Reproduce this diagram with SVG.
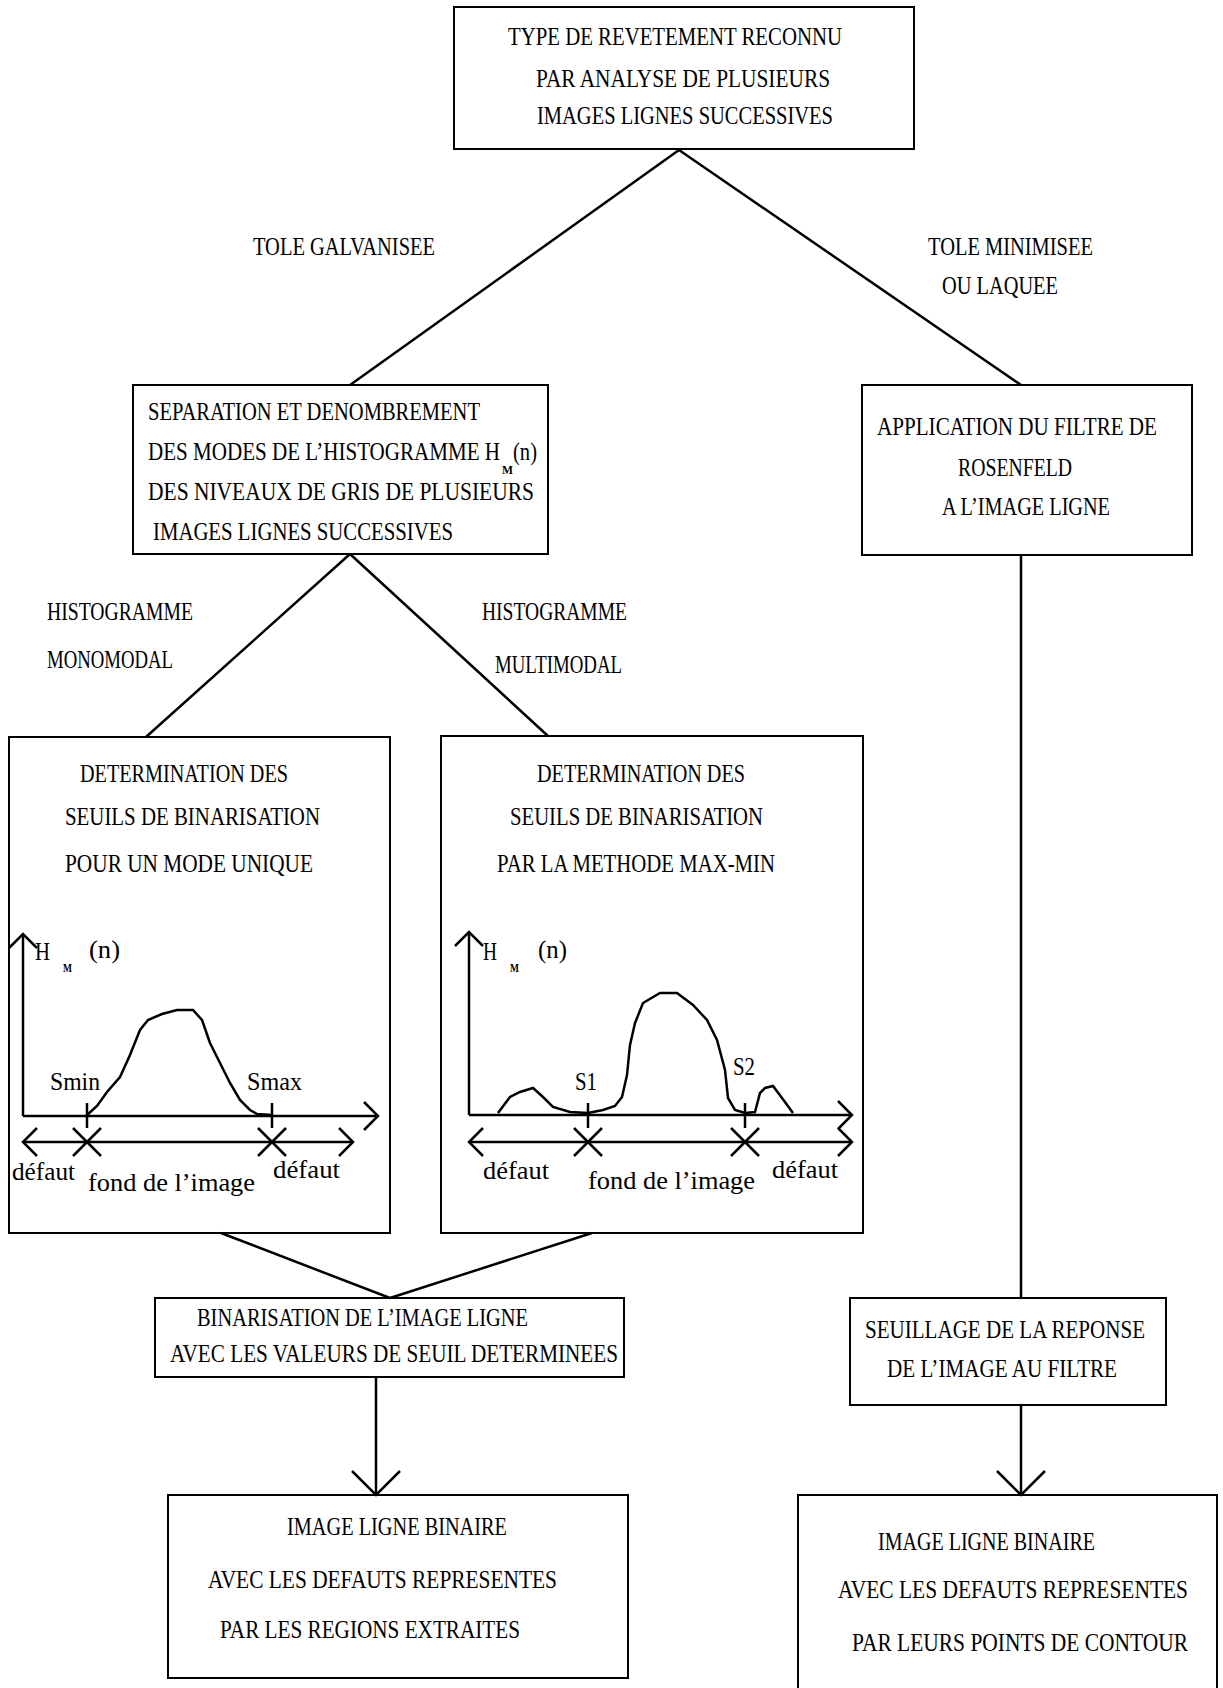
<svg xmlns="http://www.w3.org/2000/svg" width="1223" height="1688" viewBox="0 0 1223 1688">
<style>
.box{fill:none;stroke:#000;stroke-width:2}
.ln{fill:none;stroke:#000;stroke-width:2.5}
.t{font-family:"Liberation Serif",serif;font-size:26px;fill:#000}
.lc{font-family:"Liberation Serif",serif;font-size:26px;fill:#000}
.sub{font-family:"Liberation Serif",serif;font-size:13px;fill:#000;font-weight:bold}
</style>
<defs>
<marker id="v" markerUnits="userSpaceOnUse" viewBox="-30 -30 60 60" markerWidth="60" markerHeight="60" refX="0" refY="0" orient="auto-start-reverse">
<path d="M-24,-24 L0,0 L-24,24" fill="none" stroke="#000" stroke-width="2.5"/>
</marker>
<marker id="a" markerUnits="userSpaceOnUse" viewBox="-20 -20 40 40" markerWidth="40" markerHeight="40" refX="0" refY="0" orient="auto-start-reverse">
<path d="M-14,-14 L0,0 L-14,14" fill="none" stroke="#000" stroke-width="2.5"/>
</marker>
</defs>
<rect width="1223" height="1688" fill="#fff"/>

<g id="connectors">
<line class="ln" x1="679" y1="150" x2="350" y2="385"/>
<line class="ln" x1="679" y1="150" x2="1021" y2="385"/>
<line class="ln" x1="350" y1="554" x2="146" y2="737"/>
<line class="ln" x1="350" y1="554" x2="548" y2="736"/>
<line class="ln" x1="221" y1="1233" x2="390" y2="1298"/>
<line class="ln" x1="592" y1="1233" x2="390" y2="1298"/>
<line class="ln" x1="376" y1="1377" x2="376" y2="1495" marker-end="url(#v)"/>
<line class="ln" x1="1021" y1="555" x2="1021" y2="1298"/>
<line class="ln" x1="1021" y1="1405" x2="1021" y2="1495" marker-end="url(#v)"/>
</g>

<g id="labels">
<text class="t" x="253" y="255" textLength="182" lengthAdjust="spacingAndGlyphs">TOLE GALVANISEE</text>
<text class="t" x="928" y="255" textLength="165" lengthAdjust="spacingAndGlyphs">TOLE MINIMISEE</text>
<text class="t" x="942" y="294" textLength="116" lengthAdjust="spacingAndGlyphs">OU LAQUEE</text>
<text class="t" x="47" y="620" textLength="146" lengthAdjust="spacingAndGlyphs">HISTOGRAMME</text>
<text class="t" x="47" y="668" textLength="126" lengthAdjust="spacingAndGlyphs">MONOMODAL</text>
<text class="t" x="482" y="620" textLength="145" lengthAdjust="spacingAndGlyphs">HISTOGRAMME</text>
<text class="t" x="495" y="673" textLength="127" lengthAdjust="spacingAndGlyphs">MULTIMODAL</text>
</g>

<g id="n1">
<rect class="box" x="454" y="7" width="460" height="142"/>
<text class="t" x="508" y="45" textLength="334" lengthAdjust="spacingAndGlyphs">TYPE DE REVETEMENT RECONNU</text>
<text class="t" x="536" y="87" textLength="294" lengthAdjust="spacingAndGlyphs">PAR ANALYSE DE PLUSIEURS</text>
<text class="t" x="537" y="124" textLength="296" lengthAdjust="spacingAndGlyphs">IMAGES LIGNES SUCCESSIVES</text>
</g>

<g id="n2">
<rect class="box" x="133" y="385" width="415" height="169"/>
<text class="t" x="148" y="420" textLength="332" lengthAdjust="spacingAndGlyphs">SEPARATION ET DENOMBREMENT</text>
<text class="t" x="148" y="460" textLength="352" lengthAdjust="spacingAndGlyphs">DES MODES DE L’HISTOGRAMME H</text>
<text class="sub" x="502" y="474" textLength="11" lengthAdjust="spacingAndGlyphs">M</text>
<text class="t" x="513" y="460" textLength="24" lengthAdjust="spacingAndGlyphs">(n)</text>
<text class="t" x="148" y="500" textLength="386" lengthAdjust="spacingAndGlyphs">DES NIVEAUX DE GRIS DE PLUSIEURS</text>
<text class="t" x="153" y="540" textLength="300" lengthAdjust="spacingAndGlyphs">IMAGES LIGNES SUCCESSIVES</text>
</g>

<g id="n3">
<rect class="box" x="862" y="385" width="330" height="170"/>
<text class="t" x="877" y="435" textLength="280" lengthAdjust="spacingAndGlyphs">APPLICATION DU FILTRE DE</text>
<text class="t" x="958" y="476" textLength="114" lengthAdjust="spacingAndGlyphs">ROSENFELD</text>
<text class="t" x="942" y="515" textLength="168" lengthAdjust="spacingAndGlyphs">A L’IMAGE LIGNE</text>
</g>

<g id="n4">
<rect class="box" x="9" y="737" width="381" height="496"/>
<text class="t" x="80" y="782" textLength="208" lengthAdjust="spacingAndGlyphs">DETERMINATION DES</text>
<text class="t" x="65" y="825" textLength="255" lengthAdjust="spacingAndGlyphs">SEUILS DE BINARISATION</text>
<text class="t" x="65" y="872" textLength="248" lengthAdjust="spacingAndGlyphs">POUR UN MODE UNIQUE</text>
<line class="ln" x1="23" y1="1116" x2="23" y2="934" marker-end="url(#a)"/>
<line class="ln" x1="23" y1="1116" x2="378" y2="1116" marker-end="url(#a)"/>
<line class="ln" x1="23" y1="1142" x2="353" y2="1142" marker-start="url(#a)" marker-end="url(#a)"/>
<path class="ln" d="M87,1103 V1128 M272,1103 V1128 M73,1128 L101,1156 M101,1128 L73,1156 M258,1128 L286,1156 M286,1128 L258,1156"/>
<path class="ln" d="M87,1115 L97,1106 L107,1092 L120,1077 L130,1055 L140,1030 L148,1020 L162,1014 L177,1010 L193,1010 L202,1020 L210,1043 L220,1063 L230,1083 L240,1100 L250,1110 L257,1114 L272,1115"/>
<text class="t" x="35" y="960" textLength="15" lengthAdjust="spacingAndGlyphs">H</text>
<text class="sub" x="63" y="972" textLength="9" lengthAdjust="spacingAndGlyphs">M</text>
<text class="t" x="89" y="958" textLength="31" lengthAdjust="spacingAndGlyphs">(n)</text>
<text class="lc" x="50" y="1090" textLength="50" lengthAdjust="spacingAndGlyphs">Smin</text>
<text class="lc" x="247" y="1090" textLength="55" lengthAdjust="spacingAndGlyphs">Smax</text>
<text class="lc" x="12" y="1180" textLength="63" lengthAdjust="spacingAndGlyphs">défaut</text>
<text class="lc" x="88" y="1191" textLength="167" lengthAdjust="spacingAndGlyphs">fond de l’image</text>
<text class="lc" x="273" y="1178" textLength="67" lengthAdjust="spacingAndGlyphs">défaut</text>
</g>

<g id="n5">
<rect class="box" x="441" y="736" width="422" height="497"/>
<text class="t" x="537" y="782" textLength="208" lengthAdjust="spacingAndGlyphs">DETERMINATION DES</text>
<text class="t" x="510" y="825" textLength="253" lengthAdjust="spacingAndGlyphs">SEUILS DE BINARISATION</text>
<text class="t" x="497" y="872" textLength="278" lengthAdjust="spacingAndGlyphs">PAR LA METHODE MAX-MIN</text>
<line class="ln" x1="469" y1="1115" x2="469" y2="932" marker-end="url(#a)"/>
<line class="ln" x1="469" y1="1115" x2="852" y2="1115" marker-end="url(#a)"/>
<line class="ln" x1="469" y1="1142" x2="852" y2="1142" marker-start="url(#a)" marker-end="url(#a)"/>
<path class="ln" d="M588,1103 V1128 M745,1103 V1128 M574,1128 L602,1156 M602,1128 L574,1156 M731,1128 L759,1156 M759,1128 L731,1156"/>
<path class="ln" d="M498,1113 L510,1097 L520,1092 L533,1088 L543,1097 L553,1107 L570,1112 L588,1113 L603,1110 L615,1106 L622,1097 L627,1075 L630,1045 L635,1023 L643,1003 L660,993 L677,993 L693,1005 L707,1020 L717,1040 L725,1070 L728,1098 L735,1110 L745,1113 L755,1112 L760,1093 L765,1088 L773,1086 L782,1098 L793,1113"/>
<text class="t" x="483" y="960" textLength="14" lengthAdjust="spacingAndGlyphs">H</text>
<text class="sub" x="510" y="972" textLength="9" lengthAdjust="spacingAndGlyphs">M</text>
<text class="t" x="538" y="958" textLength="29" lengthAdjust="spacingAndGlyphs">(n)</text>
<text class="lc" x="575" y="1090" textLength="22" lengthAdjust="spacingAndGlyphs">S1</text>
<text class="lc" x="733" y="1075" textLength="22" lengthAdjust="spacingAndGlyphs">S2</text>
<text class="lc" x="483" y="1179" textLength="66" lengthAdjust="spacingAndGlyphs">défaut</text>
<text class="lc" x="588" y="1189" textLength="167" lengthAdjust="spacingAndGlyphs">fond de l’image</text>
<text class="lc" x="772" y="1178" textLength="66" lengthAdjust="spacingAndGlyphs">défaut</text>
</g>

<g id="n6">
<rect class="box" x="155" y="1298" width="469" height="79"/>
<text class="t" x="197" y="1326" textLength="331" lengthAdjust="spacingAndGlyphs">BINARISATION DE L’IMAGE LIGNE</text>
<text class="t" x="170" y="1362" textLength="448" lengthAdjust="spacingAndGlyphs">AVEC LES VALEURS DE SEUIL DETERMINEES</text>
</g>

<g id="n7">
<rect class="box" x="168" y="1495" width="460" height="183"/>
<text class="t" x="287" y="1535" textLength="220" lengthAdjust="spacingAndGlyphs">IMAGE LIGNE BINAIRE</text>
<text class="t" x="208" y="1588" textLength="349" lengthAdjust="spacingAndGlyphs">AVEC LES DEFAUTS REPRESENTES</text>
<text class="t" x="220" y="1638" textLength="300" lengthAdjust="spacingAndGlyphs">PAR LES REGIONS EXTRAITES</text>
</g>

<g id="n9">
<path class="box" d="M798,1688 V1495 H1217 V1688"/>
<text class="t" x="878" y="1550" textLength="217" lengthAdjust="spacingAndGlyphs">IMAGE LIGNE BINAIRE</text>
<text class="t" x="838" y="1598" textLength="350" lengthAdjust="spacingAndGlyphs">AVEC LES DEFAUTS REPRESENTES</text>
<text class="t" x="852" y="1651" textLength="336" lengthAdjust="spacingAndGlyphs">PAR LEURS POINTS DE CONTOUR</text>
</g>

<g id="n8">
<rect class="box" x="850" y="1298" width="316" height="107"/>
<text class="t" x="865" y="1338" textLength="280" lengthAdjust="spacingAndGlyphs">SEUILLAGE DE LA REPONSE</text>
<text class="t" x="887" y="1377" textLength="230" lengthAdjust="spacingAndGlyphs">DE L’IMAGE AU FILTRE</text>
</g>
</svg>
